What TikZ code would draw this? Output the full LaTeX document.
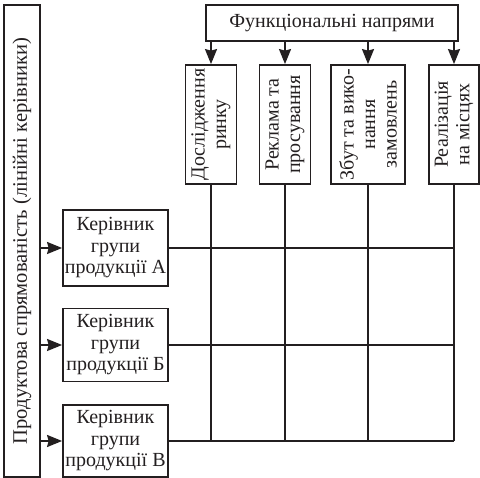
\documentclass[tikz,border=0pt]{standalone}
\usepackage{fontspec}
\setmainfont{Liberation Serif}
\usetikzlibrary{arrows.meta}
\definecolor{ink}{HTML}{231F20}
\begin{document}
\begin{tikzpicture}[x=1pt,y=-1pt,
  box/.style={draw=ink,line width=1.8pt,inner sep=0pt,text=ink,align=center,
    font=\fontsize{20}{21.5}\selectfont},
  vbox/.style={box,rotate=90},
  conn/.style={draw=ink,line width=1.8pt},
  arr/.style={conn,-{Stealth[length=15pt,width=12pt,inset=1.5pt]}}]
\useasboundingbox (0,0) rectangle (480,478);
\node[draw=ink,line width=1.8pt,inner sep=0pt,text=ink,rotate=90,
  font=\fontsize{20.6}{22}\selectfont,minimum width=472pt,minimum height=36pt] (L) at (22,241)
  {Продуктова спрямованість (лінійні керівники)\hspace{60pt}};
\node[box,minimum width=252pt,minimum height=36pt] (F) at (332,23) {Функціональні напрями};
\node[vbox,minimum width=119pt,minimum height=51pt] (D1) at (211,124.5) {Дослідження\\ринку};
\node[vbox,minimum width=119pt,minimum height=51pt] (D2) at (285,124.5) {Реклама та\\просування};
\node[vbox,minimum width=119pt,minimum height=74pt] (D3) at (368,124.5) {Збут та вико-\\нання\\замовлень};
\node[vbox,minimum width=119pt,minimum height=50pt] (D4) at (454,124.5) {Реалізація\\на місцях};
\node[box,minimum width=105pt,minimum height=76pt] (A) at (115.5,248) {Керівник\\групи\\продукції А};
\node[box,minimum width=105pt,minimum height=73pt] (B) at (115.5,345) {Керівник\\групи\\продукції Б};
\node[box,minimum width=105pt,minimum height=72pt] (V) at (115.5,441) {Керівник\\групи\\продукції В};
\foreach \dn in {D1,D2,D3,D4}{
  \draw[arr] (F.south -| \dn.east) -- (\dn.east);
  \draw[conn] (\dn.west) -- (\dn.west |- V.east);
}
\foreach \bn in {A,B,V}{
  \draw[arr] (L.south |- \bn.west) -- (\bn.west);
  \draw[conn] (\bn.east) -- (\bn.east -| D4.west);
}
\end{tikzpicture}
\end{document}
